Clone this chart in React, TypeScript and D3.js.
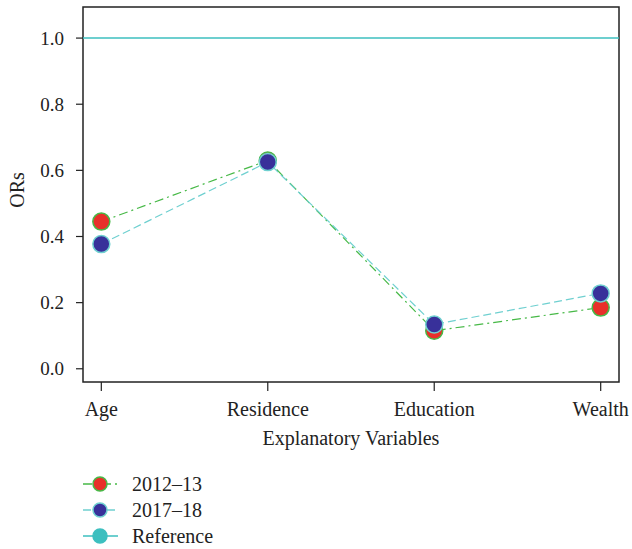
import React from "react";
import * as d3 from "d3";

// data
const categories = ["Age", "Residence", "Education", "Wealth"];
const ors2012 = [0.445, 0.63, 0.115, 0.185];
const ors2017 = [0.377, 0.625, 0.134, 0.228];
const referenceValue = 1.0;
const yTicks = [0.0, 0.2, 0.4, 0.6, 0.8, 1.0];
const legendLabels = ["2012\u201313", "2017\u201318", "Reference"];

const W = 632;
const H = 549;
const FONT = "'Liberation Serif', 'DejaVu Serif', serif";

export default function App() {
  const left = 83, right = 619, top = 7, bottom = 382;

  const x = d3.scalePoint<string>().domain(categories).range([left, right]).padding(0.11);
  const y = d3.scaleLinear().domain([-0.04, 1.094]).range([bottom, top]);

  const lineGen = d3
    .line<number>()
    .x((d, i) => x(categories[i]) as number)
    .y((d) => y(d));

  const series = [
    { vals: ors2012, fill: "#e8302a", stroke: "#47b947", dash: "9,4,2,4" },
    { vals: ors2017, fill: "#38309a", stroke: "#6fd0d0", dash: "8,4" },
  ];

  return (
    <svg width={W} height={H} style={{ position: "absolute", left: 0, top: 0, background: "#fff" }}>
      {/* frame */}
      <rect x={left} y={top} width={right - left} height={bottom - top} fill="none" stroke="#222" strokeWidth={1.5} />

      {/* reference line */}
      <line x1={left} x2={right} y1={y(referenceValue)} y2={y(referenceValue)} stroke="#3dbfbf" strokeWidth={1.5} />

      {/* y axis */}
      {yTicks.map((t) => (
        <g key={t}>
          <line x1={left - 7} x2={left} y1={y(t)} y2={y(t)} stroke="#222" strokeWidth={1.2} />
          <text x={left - 19} y={y(t)} dy="0.35em" textAnchor="end" fontFamily={FONT} fontSize={19} fill="#222">
            {d3.format(".1f")(t)}
          </text>
        </g>
      ))}
      <text
        transform={`translate(24,${190}) rotate(-90)`}
        textAnchor="middle"
        fontFamily={FONT}
        fontSize={20}
        fill="#222"
      >
        ORs
      </text>

      {/* x axis */}
      {categories.map((c) => (
        <g key={c}>
          <line x1={x(c)} x2={x(c)} y1={bottom} y2={bottom + 9} stroke="#222" strokeWidth={1.2} />
          <text x={x(c)} y={416} textAnchor="middle" fontFamily={FONT} fontSize={20} fill="#222">
            {c}
          </text>
        </g>
      ))}
      <text x={(left + right) / 2} y={445} textAnchor="middle" fontFamily={FONT} fontSize={20} fill="#222">
        Explanatory Variables
      </text>

      {/* series lines */}
      {series.map((s, k) => (
        <path key={"l" + k} d={lineGen(s.vals) ?? ""} fill="none" stroke={s.stroke} strokeWidth={1.2} strokeDasharray={s.dash} />
      ))}
      {/* markers */}
      {series.map((s, k) =>
        s.vals.map((v, i) => (
          <circle key={`m${k}-${i}`} cx={x(categories[i])} cy={y(v)} r={8.5} fill={s.fill} stroke={s.stroke} strokeWidth={1.5} />
        ))
      )}

      {/* legend */}
      {legendLabels.map((lab, i) => {
        const ly = 484 + i * 26;
        const st = i === 0 ? series[0] : i === 1 ? series[1] : { fill: "#3dbfbf", stroke: "#3dbfbf", dash: "" };
        return (
          <g key={lab}>
            <line x1={83} x2={118} y1={ly} y2={ly} stroke={st.stroke} strokeWidth={1.5} strokeDasharray={st.dash} />
            <circle cx={100} cy={ly} r={7} fill={st.fill} stroke={st.stroke} strokeWidth={1.5} />
            <text x={132} y={ly} dy="0.35em" fontFamily={FONT} fontSize={20} fill="#222">
              {lab}
            </text>
          </g>
        );
      })}
    </svg>
  );
}
